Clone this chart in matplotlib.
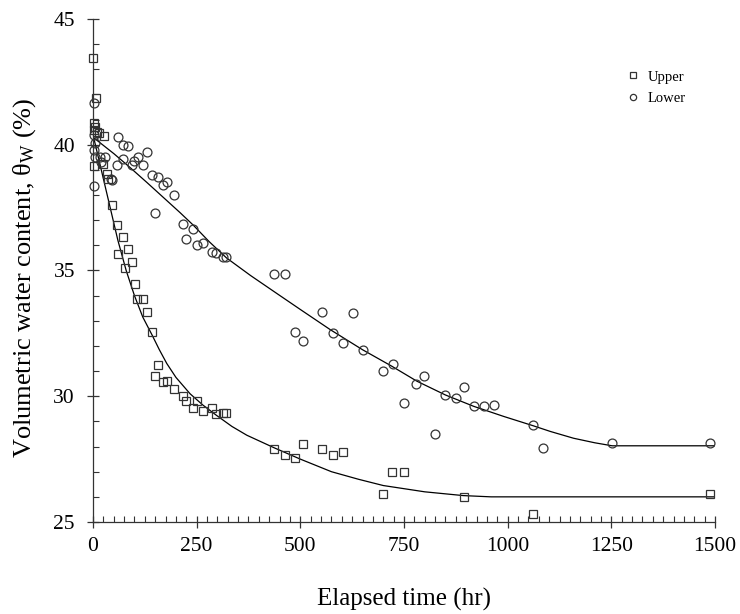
import matplotlib
matplotlib.use("Agg")
import matplotlib.pyplot as plt
from matplotlib.lines import Line2D
from matplotlib.ticker import MultipleLocator

plt.rcParams["font.family"] = ["Liberation Serif", "DejaVu Serif"]
plt.rcParams["mathtext.fontset"] = "custom"
plt.rcParams["mathtext.rm"] = "Liberation Serif"
plt.rcParams["mathtext.it"] = "Liberation Serif:italic"

# measured points, upper sensor (hr, %)
upper_t = [0, 8, 3, 2, 5, 10, 15, 27, 2, 25, 33, 35, 47, 57, 72, 84, 61, 93, 77,
           101, 105, 120, 130, 142, 156, 150, 170, 178, 196, 217, 224, 250, 241,
           266, 286, 297, 314, 321, 437, 463, 487, 506, 553, 578, 602, 699, 722,
           750, 894, 1060, 1489]
upper_w = [43.45, 41.85, 40.85, 40.6, 40.7, 40.5, 40.45, 40.35, 39.15, 39.25, 38.85,
           38.65, 37.6, 36.8, 36.35, 35.85, 35.65, 35.35, 35.1, 34.45, 33.85, 33.85,
           33.35, 32.55, 31.25, 30.8, 30.55, 30.6, 30.3, 30.0, 29.8, 29.8, 29.55,
           29.4, 29.55, 29.3, 29.35, 29.35, 27.9, 27.65, 27.55, 28.1, 27.9, 27.65,
           27.8, 26.1, 27.0, 27.0, 26.0, 25.3, 26.1]

# measured points, lower sensor
lower_t = [3, 2, 4, 3, 4, 17, 30, 19, 3, 43, 47, 61, 73, 84, 57, 72, 93, 100, 108,
           120, 130, 142, 156, 170, 178, 196, 150, 216, 241, 224, 250, 266, 286,
           297, 314, 320, 437, 463, 553, 626, 487, 506, 578, 602, 650, 723, 699,
           799, 779, 751, 849, 875, 894, 920, 944, 968, 824, 1061, 1086, 1252, 1489]
lower_w = [41.65, 40.4, 40.05, 39.8, 39.5, 39.5, 39.5, 39.3, 38.35, 38.65, 38.6,
           40.3, 40.0, 39.95, 39.2, 39.45, 39.2, 39.35, 39.5, 39.2, 39.7, 38.8, 38.7,
           38.4, 38.5, 38.0, 37.3, 36.85, 36.65, 36.25, 36.0, 36.1, 35.75, 35.7,
           35.55, 35.55, 34.85, 34.85, 33.35, 33.3, 32.55, 32.2, 32.5, 32.1, 31.85,
           31.3, 31.0, 30.8, 30.5, 29.75, 30.05, 29.95, 30.35, 29.6, 29.6, 29.65,
           28.5, 28.85, 27.95, 28.15, 28.15]

# fitted curves
fit_up_t = [0, 20, 40, 60, 80, 100, 120, 142, 160, 178, 200, 234, 265, 297, 335,
            371, 437, 500, 575, 640, 700, 800, 893, 960, 1500]
fit_up_w = [40.4, 39.0, 37.6, 36.2, 35.0, 34.0, 33.15, 32.45, 31.85, 31.3, 30.75,
            30.1, 29.65, 29.25, 28.8, 28.45, 27.95, 27.5, 27.0, 26.7, 26.45, 26.2,
            26.05, 26.0, 26.0]
fit_lo_t = [0, 50, 89, 130, 170, 210, 242, 280, 322, 380, 451, 500, 572, 650, 720,
            781, 850, 918, 990, 1061, 1103, 1159, 1210, 1252, 1500]
fit_lo_w = [40.3, 39.65, 39.1, 38.5, 37.9, 37.3, 36.8, 36.15, 35.5, 34.8, 34.0,
            33.45, 32.65, 31.85, 31.2, 30.6, 30.05, 29.6, 29.2, 28.83, 28.6, 28.33,
            28.15, 28.03, 28.03]

fig = plt.figure(figsize=(7.4, 6.14), dpi=100)
ax = fig.add_axes([93 / 740, 1 - 522 / 614, 622 / 740, 503 / 614])

ax.plot(fit_up_t, fit_up_w, color="black", lw=0.9, zorder=2)
ax.plot(fit_lo_t, fit_lo_w, color="black", lw=0.9, zorder=2)
ax.plot(upper_t, upper_w, ls="none", marker="s", ms=6.0, mfc="none",
        mec="#333333", mew=0.9, zorder=3, clip_on=False)
ax.plot(lower_t, lower_w, ls="none", marker="o", ms=6.4, mfc="none",
        mec="#333333", mew=0.9, zorder=3, clip_on=False)

ax.set_xlim(0, 1500)
ax.set_ylim(25, 45)
ax.xaxis.set_major_locator(MultipleLocator(250))
ax.xaxis.set_minor_locator(MultipleLocator(25))
ax.yaxis.set_major_locator(MultipleLocator(5))
ax.yaxis.set_minor_locator(MultipleLocator(1))

for s in ["top", "right"]:
    ax.spines[s].set_visible(False)
for s in ["left", "bottom"]:
    ax.spines[s].set_color("#333333")
    ax.spines[s].set_linewidth(0.9)

ax.tick_params(axis="x", which="major", direction="inout", length=8, width=0.9,
               color="#333333", labelsize=15.5, pad=7)
ax.tick_params(axis="y", which="major", direction="inout", length=8, width=0.9,
               color="#333333", labelsize=15.5, pad=9)
ax.tick_params(which="minor", direction="in", length=4, width=0.8, color="#333333")

ax.set_xlabel("Elapsed time (hr)", fontsize=18, labelpad=23)
ax.set_ylabel(r"Volumetric water content, θ$_{\mathrm{W}}$ (%)", fontsize=19)
ax.yaxis.set_label_coords(-0.088, 0.485)

handles = [
    Line2D([], [], ls="none", marker="s", ms=4.5, mfc="none", mec="#333333", mew=0.9),
    Line2D([], [], ls="none", marker="o", ms=4.5, mfc="none", mec="#333333", mew=0.9),
]
ax.legend(handles, ["Upper", "Lower"], loc="upper left", bbox_to_anchor=(0.857, 0.898),
          frameon=False, fontsize=10.5, handlelength=1.0, handletextpad=0.5,
          labelspacing=0.55, borderpad=0, borderaxespad=0)

fig.savefig("out.png", dpi=100)
